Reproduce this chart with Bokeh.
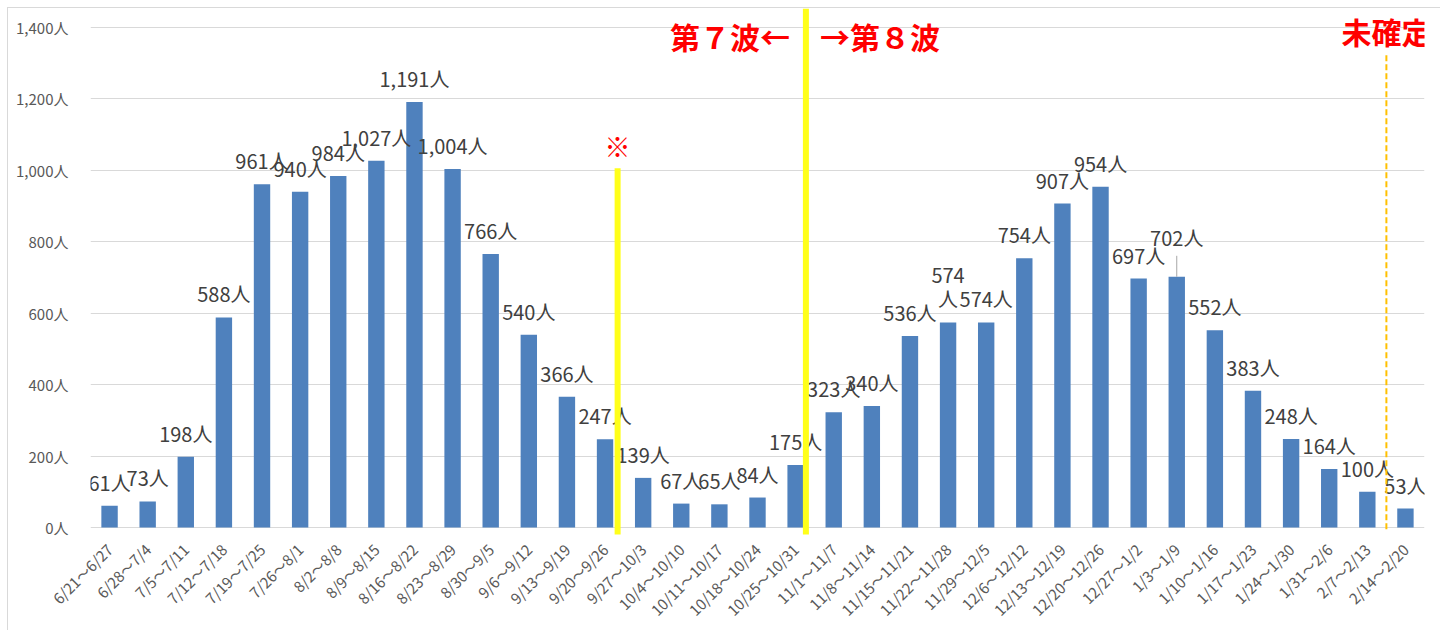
import math
from bokeh.plotting import figure
from bokeh.models import ColumnDataSource, FactorRange, Range1d, FixedTicker, Label
from bokeh.embed import file_html
from bokeh.resources import INLINE
from bokeh.core.properties import value

# ---------------- data ----------------
weeks = ["6/21～6/27", "6/28～7/4", "7/5～7/11", "7/12～7/18", "7/19～7/25",
         "7/26～8/1", "8/2～8/8", "8/9～8/15", "8/16～8/22", "8/23～8/29",
         "8/30～9/5", "9/6～9/12", "9/13～9/19", "9/20～9/26", "9/27～10/3",
         "10/4～10/10", "10/11～10/17", "10/18～10/24", "10/25～10/31", "11/1～11/7",
         "11/8～11/14", "11/15～11/21", "11/22～11/28", "11/29～12/5", "12/6～12/12",
         "12/13～12/19", "12/20～12/26", "12/27～1/2", "1/3～1/9", "1/10～1/16",
         "1/17～1/23", "1/24～1/30", "1/31～2/6", "2/7～2/13", "2/14～2/20"]
cases = [61, 73, 198, 588, 961, 940, 984, 1027, 1191, 1004,
         766, 540, 366, 247, 139, 67, 65, 84, 175, 323,
         340, 536, 574, 574, 754, 907, 954, 697, 702, 552,
         383, 248, 164, 100, 53]
y_ticks = [0, 200, 400, 600, 800, 1000, 1200, 1400]
y_tick_labels = ["0人", "200人", "400人", "600人", "800人", "1,000人", "1,200人", "1,400人"]

wave7_label = "第７波←"
wave8_label = "→第８波"
unconfirmed_label = "未確定"
note_mark = "※"

# ---------------- layout ----------------
W, H = 1432, 622
B_LEFT, B_RIGHT, B_TOP, B_BOTTOM = 82, 16, 0, 90
FRAME_H = H - B_TOP - B_BOTTOM
Y0, Y1 = -33.5, 1453
PPU = FRAME_H / (Y1 - Y0)  # pixels per unit
FONT = "Noto Sans CJK JP"

labels = [f"{v:,}人" for v in cases]
labels[22] = f"{cases[22]:,}\n人"          # wrapped label in the original
label_dy = [-9] * len(cases)
label_dy[28] = -25                             # label lifted, with leader line

src = ColumnDataSource(dict(week=weeks, cases=cases, label=labels, dy=label_dy))

p = figure(x_range=FactorRange(factors=weeks, range_padding=0),
           y_range=Range1d(Y0, Y1), width=W, height=H,
           output_backend="svg", toolbar_location=None,
           min_border_left=B_LEFT, min_border_right=B_RIGHT,
           min_border_top=B_TOP, min_border_bottom=B_BOTTOM)
p.styles = {"margin-left": "8px", "margin-top": "8px", "outline": "1px solid #D9D9D9"}
p.outline_line_color = None
p.background_fill_color = "white"

p.vbar(x="week", top="cases", bottom=0, width=0.43, source=src,
       fill_color="#4F81BD", line_color=None)

# leader line for the lifted label
i = 28
p.segment(x0=[weeks[i]], y0=[cases[i]], x1=[weeks[i]], y1=[cases[i] + 21 / PPU],
          line_color="#A6A6A6", line_width=1)

p.text(x="week", y="cases", text="label", source=src, y_offset="dy",
       text_align="center", text_baseline="bottom",
       text_font=value(FONT), text_font_size="20px", text_color="#404040",
       text_line_height=0.85)

# wave separator lines
p.segment(x0=[13.83], y0=[-19.5], x1=[13.83], y1=[1006],
          line_color="#FFFF1A", line_width=6)
p.segment(x0=[18.77], y0=[-19.5], x1=[18.77], y1=[Y1],
          line_color="#FFFF1A", line_width=6)
p.segment(x0=[34.0], y0=[-5], x1=[34.0], y1=[1330],
          line_color="#FFC000", line_width=2, line_dash="6 3")

for txt, x, y, align in [(wave7_label, 18.35, 1377, "right"),
                         (wave8_label, 19.14, 1377, "left"),
                         (unconfirmed_label, 34.0, 1389, "center")]:
    p.add_layout(Label(x=x, y=y, text=txt, text_align=align, text_baseline="middle",
                       text_font=FONT, text_font_size="30px", text_font_style="bold",
                       text_color="#FF0000"))
p.add_layout(Label(x=13.83, y=1070, text=note_mark, text_align="center",
                   text_baseline="middle", text_font=FONT, text_font_size="26px",
                   text_color="#FF0000"))

# axes
p.yaxis.ticker = FixedTicker(ticks=y_ticks)
p.yaxis.major_label_overrides = {t: l for t, l in zip(y_ticks, y_tick_labels)}
p.yaxis.axis_line_color = None
p.yaxis.major_tick_line_color = None
p.yaxis.minor_tick_line_color = None
p.yaxis.major_label_standoff = 16
p.yaxis.major_label_text_font = FONT
p.yaxis.major_label_text_font_size = "15px"
p.yaxis.major_label_text_color = "#595959"

p.xaxis.axis_line_color = None
p.xaxis.major_tick_line_color = None
p.xaxis.minor_tick_line_color = None
p.xaxis.major_label_orientation = math.pi / 4
p.xaxis.major_label_standoff = 1
p.xaxis.major_label_text_font = FONT
p.xaxis.major_label_text_font_size = "15px"
p.xaxis.major_label_text_color = "#595959"

p.xgrid.grid_line_color = None
p.ygrid.ticker = FixedTicker(ticks=y_ticks)
p.ygrid.grid_line_color = "#D9D9D9"
p.ygrid.grid_line_width = 1

open("out.html", "w").write(file_html(p, INLINE))
